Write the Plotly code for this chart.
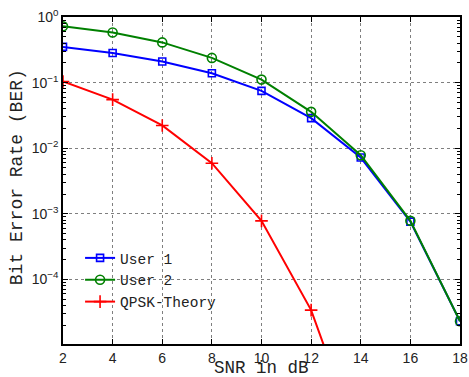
import plotly.graph_objects as go

snr_db = [2, 4, 6, 8, 10, 12, 14, 16, 18]
ber_user1 = [0.35, 0.283, 0.21, 0.139, 0.0748, 0.0287, 0.0072, 0.00076, 0.000023]
ber_user2 = [0.72, 0.58, 0.41, 0.238, 0.111, 0.0358, 0.0078, 0.00078, 0.000023]
ber_theory = [0.104, 0.055, 0.0222, 0.0059, 0.00078, 0.000034, 2.7e-7, 1.4e-10, 1e-15]

x_ticks = [2, 4, 6, 8, 10, 12, 14, 16, 18]
y_tickvals = [1, 0.1, 0.01, 0.001, 0.0001]
y_ticktext = ["10<sup>0</sup>", "10<sup>−1</sup>", "10<sup>−2</sup>", "10<sup>−3</sup>", "10<sup>−4</sup>"]

mono = "Liberation Mono, Courier New, monospace"
sans = "Liberation Sans, Arial, sans-serif"

fig = go.Figure()
fig.add_trace(go.Scatter(
    x=snr_db, y=ber_user1, name="User 1", mode="lines+markers",
    line=dict(color="#0000ff", width=2),
    marker=dict(symbol="square-open", size=7, color="#0000ff", line=dict(width=1.6)),
))
fig.add_trace(go.Scatter(
    x=snr_db, y=ber_user2, name="User 2", mode="lines+markers",
    line=dict(color="#008000", width=2),
    marker=dict(symbol="circle-open", size=9, color="#008000", line=dict(width=1.6)),
))
fig.add_trace(go.Scatter(
    x=snr_db, y=ber_theory, name="QPSK-Theory", mode="lines+markers",
    line=dict(color="#ff0000", width=2),
    marker=dict(symbol="cross-thin-open", size=9, color="#ff0000", line=dict(width=1.6, color="#ff0000")),
))

axis_common = dict(
    showline=True, linecolor="black", linewidth=1.5, mirror="allticks",
    ticks="inside", tickcolor="black", ticklen=5, tickwidth=1,
    showgrid=True, gridcolor="#7f7f7f", griddash="dot", gridwidth=1,
    zeroline=False, automargin=False,
    tickfont=dict(family=sans, size=14, color="#222"),
)

fig.update_xaxes(range=[2, 18], tickvals=x_ticks, **axis_common)
fig.update_yaxes(
    type="log", range=[-4.985, 0],
    tickvals=y_tickvals, ticktext=y_ticktext,
    minor=dict(dtick="D1", ticks="inside", ticklen=3, tickcolor="black", showgrid=False),
    **axis_common,
)

fig.update_layout(
    width=469, height=377,
    margin=dict(l=63, r=9, t=17, b=33),
    paper_bgcolor="white", plot_bgcolor="white",
    showlegend=True,
    legend=dict(
        x=0.043, y=0.312, xanchor="left", yanchor="top",
        bgcolor="rgba(255,255,255,0)", borderwidth=0,
        font=dict(family=mono, size=14.5, color="#222"),
        tracegroupgap=0,
    ),
    annotations=[
        dict(
            text="Bit Error Rate (BER)", xref="paper", yref="paper",
            x=-46 / 397, y=0.51, xanchor="center", yanchor="middle",
            textangle=-90, showarrow=False,
            font=dict(family=mono, size=18, color="#222"),
        ),
        dict(
            text="SNR in dB", xref="paper", yref="paper",
            x=0.5, y=-0.074, xanchor="center", yanchor="middle",
            showarrow=False,
            font=dict(family=mono, size=17.5, color="#222"),
        ),
    ],
)

fig.write_html(
    "out.html",
    config={"displayModeBar": False},
    post_script="document.body.style.margin='0';document.body.style.overflow='hidden';",
)
